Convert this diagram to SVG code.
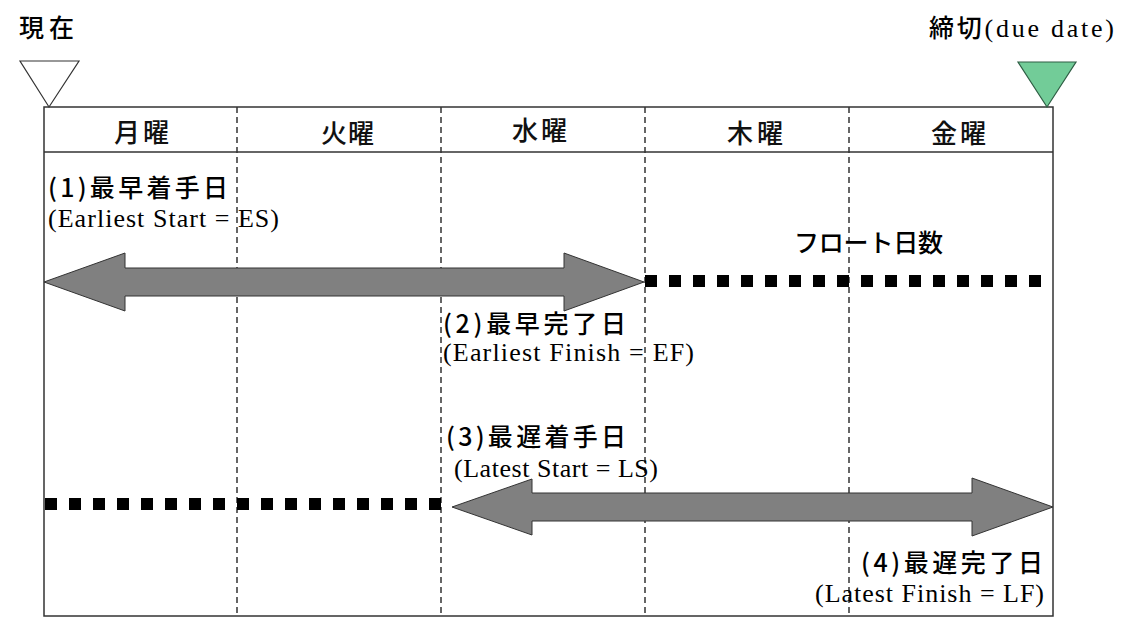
<svg xmlns="http://www.w3.org/2000/svg" width="1136" height="626" viewBox="0 0 1136 626">
<style>
.jp{font-family:"Noto Sans CJK JP","Noto Sans CJK SC",sans-serif;font-size:25px;font-weight:500;fill:#000}
.hd{font-family:"Noto Sans CJK JP","Noto Sans CJK SC",sans-serif;font-size:26px;font-weight:500;fill:#111}
.en{font-family:"Liberation Serif","Noto Sans CJK JP",serif;font-size:26px;fill:#000}
.frame{fill:#fff;stroke:#333;stroke-width:1.5}
.div{stroke:#333;stroke-width:1.5;stroke-dasharray:6 4;fill:none}
.arrow{fill:#808080;stroke:#333;stroke-width:1}
.dots{stroke:#000;stroke-width:12;stroke-dasharray:12 12;fill:none}
</style>
<rect width="1136" height="626" fill="#fff"/>
<g id="table">
<rect class="frame" x="44" y="107" width="1009" height="509"/>
<line x1="44" y1="152" x2="1053" y2="152" stroke="#333" stroke-width="1.5"/>
<line class="div" x1="237" y1="107" x2="237" y2="616"/>
<line class="div" x1="441" y1="107" x2="441" y2="616"/>
<line class="div" x1="645" y1="107" x2="645" y2="616"/>
<line class="div" x1="849" y1="107" x2="849" y2="616"/>
</g>
<g id="headers">
<text class="hd" x="114" y="142" textLength="55" lengthAdjust="spacing">月曜</text>
<text class="hd" x="321" y="143" textLength="53" lengthAdjust="spacing">火曜</text>
<text class="hd" x="512" y="140" textLength="55" lengthAdjust="spacing">水曜</text>
<text class="hd" x="727" y="143" textLength="56" lengthAdjust="spacing">木曜</text>
<text class="hd" x="931" y="143" textLength="55" lengthAdjust="spacing">金曜</text>
</g>
<g id="now">
<polygon points="20,61 79,61 49,107" fill="#fff" stroke="#333" stroke-width="1.2"/>
<text class="jp" x="19" y="37" textLength="55" lengthAdjust="spacing">現在</text>
</g>
<g id="deadline">
<polygon points="1018,62 1076,62 1047,107" fill="#72CC98" stroke="#2e5e44" stroke-width="1.2"/>
<text x="929" y="37" textLength="185" lengthAdjust="spacing"><tspan class="jp">締切</tspan><tspan class="en">(due date)</tspan></text>
</g>
<g id="connectors">
<polygon class="arrow" points="44,282 125,253 125,268 564,268 564,253 644,282 564,311 564,296 125,296 125,311"/>
<line class="dots" x1="645" y1="281" x2="1041" y2="281"/>
<line class="dots" x1="45" y1="504" x2="441" y2="504"/>
<polygon class="arrow" points="452,507 532,479 532,493 972,493 972,478 1053,507 972,536 972,521 532,521 532,535"/>
</g>
<g id="es">
<text class="jp" x="48" y="197" textLength="180" lengthAdjust="spacing">(1)最早着手日</text>
<text class="en" x="48" y="227" textLength="231" lengthAdjust="spacing">(Earliest Start = ES)</text>
</g>
<g id="float">
<text class="jp" x="794" y="252" textLength="149" lengthAdjust="spacing">フロート日数</text>
</g>
<g id="ef">
<text class="jp" x="443" y="333" textLength="183" lengthAdjust="spacing">(2)最早完了日</text>
<text class="en" x="443" y="361" textLength="251" lengthAdjust="spacing">(Earliest Finish = EF)</text>
</g>
<g id="ls">
<text class="jp" x="446" y="446" textLength="180" lengthAdjust="spacing">(3)最遅着手日</text>
<text class="en" x="454" y="477" textLength="204" lengthAdjust="spacing">(Latest Start = LS)</text>
</g>
<g id="lf">
<text class="jp" x="861" y="572" textLength="182" lengthAdjust="spacing">(4)最遅完了日</text>
<text class="en" x="815" y="602" textLength="229" lengthAdjust="spacing">(Latest Finish = LF)</text>
</g>
</svg>
